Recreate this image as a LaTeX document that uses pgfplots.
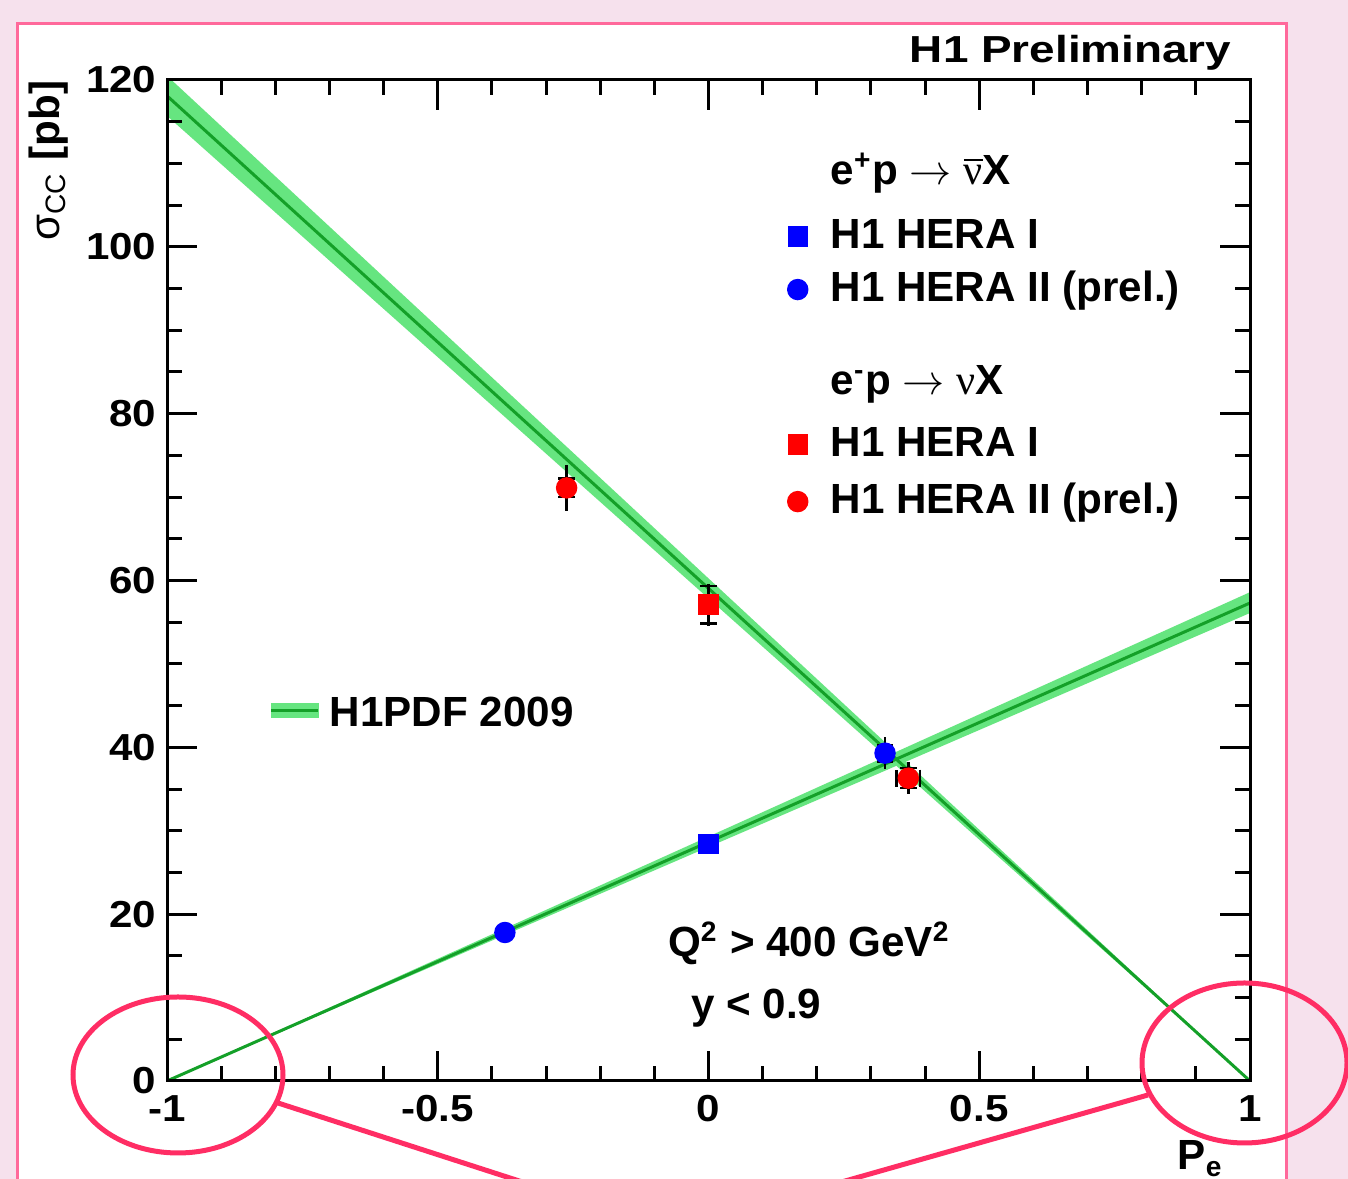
\documentclass[border=0pt]{standalone}
\usepackage{fontspec}
\setmainfont{Liberation Sans}
\newfontfamily\widesans{Liberation Sans}[FakeStretch=1.12]
\newfontfamily\titlesans{Liberation Sans}[FakeStretch=1.22]
\newfontfamily\serifnu{Liberation Serif}
\usepackage{pgfplots}
\pgfplotsset{compat=1.18}
\usepackage{pgfplotstable}

\definecolor{bg}{RGB}{246,225,237}
\definecolor{frame}{RGB}{255,105,155}
\definecolor{ring}{RGB}{255,45,100}
\definecolor{band}{RGB}{102,229,128}
\definecolor{fitline}{RGB}{20,160,40}

\newcommand{\tickfont}{\widesans\bfseries\fontsize{10.7pt}{12pt}\selectfont}
\newcommand{\legfont}{\bfseries\fontsize{12pt}{14pt}\selectfont}

% P_e, sigma, x error, total error, stat error
\pgfplotstableread{
x y ex et es
0.0 28.4 0 0.9 0.6
}\posI
\pgfplotstableread{
x y ex et es
-0.376 17.8 0 0.8 0.5
0.326 39.3 0 1.9 1.0
}\posII
\pgfplotstableread{
x y ex et es
0.0 57.1 0 2.5 2.25
}\negI
\pgfplotstableread{
x y ex et es
-0.262 71.1 0 2.8 1.1
0.369 36.3 0.022 1.9 1.2
}\negII

\begin{document}
\begin{tikzpicture}
\path[use as bounding box] (0,0) rectangle (134.8mm,117.9mm);
\clip (0,0) rectangle (134.8mm,117.9mm);
\fill[bg] (0,0) rectangle (134.8mm,117.9mm);
\filldraw[fill=white, draw=frame, line width=0.3mm] (1.7mm,-2mm) rectangle (128.6mm,115.5mm);

\pgfplotsset{
  frame/.style={
    at={(16.7mm,9.8mm)}, anchor=south west,
    scale only axis, width=108.3mm, height=100.1mm,
    xmin=-1, xmax=1, ymin=0, ymax=120,
  },
  errtot/.style={only marks, mark=none, forget plot,
    error bars/.cd, y dir=both, y explicit, error mark=none,
    error bar style={black, line width=0.25mm}},
  errstat/.style={only marks, mark=none, forget plot,
    error bars/.cd, x dir=both, x explicit, y dir=both, y explicit,
    error bar style={black, line width=0.25mm},
    error mark options={rotate=90, black, mark size=2.4pt, line width=0.25mm}},
  markimg/.style={legend image code/.code={\draw[##1] plot coordinates {(0mm,0.3mm)};}},
  leg/.style={legend cell align=left,
    legend style={anchor=north west,
      draw=none, fill=none, inner sep=0pt, row sep=1.8mm, column sep=2.3mm,
      font=\legfont, nodes={inner sep=0pt, text height=0.75em, text depth=0.25em},
      /tikz/row 1/.style={nodes={text depth=1.94mm}}}},
}

\begin{axis}[
  frame, leg,
  xtick={-1,-0.5,0,0.5,1}, xticklabels={-1,-0.5,0,0.5,1},
  ytick={0,20,...,120}, yticklabels={0,20,40,60,80,100,120},
  minor x tick num=4, minor y tick num=3,
  major tick length=3mm, minor tick length=1.5mm,
  tick style={black, line width=0.3mm},
  axis line style={line width=0.3mm},
  axis on top,
  ticklabel style={font=\tickfont, inner sep=0pt},
  xticklabel style={yshift=-1.35mm},
  yticklabel style={xshift=-1.0mm},
  legend style={at={(axis cs:0.145,110.72)}},
]
% H1PDF 2009 bands and central lines
\addplot[fill=band, draw=none, forget plot] coordinates {(-1,115.7) (1,0) (-1,120.5)};
\addplot[fill=band, draw=none, forget plot] coordinates {(-1,0) (1,56.1) (1,58.6)};
\addplot[fitline, line width=0.3mm, forget plot] coordinates {(-1,118.1) (1,0)};
\addplot[fitline, line width=0.3mm, forget plot] coordinates {(-1,0) (1,57.3)};

% error bars
\addplot[errtot] table[x=x, y=y, y error=et] {\posII};
\addplot[errtot] table[x=x, y=y, y error=et] {\negI};
\addplot[errtot] table[x=x, y=y, y error=et] {\negII};
\addplot[errstat] table[x=x, y=y, x error=ex, y error=es] {\posI};
\addplot[errstat] table[x=x, y=y, x error=ex, y error=es] {\posII};
\addplot[errstat] table[x=x, y=y, x error=ex, y error=es] {\negI};
\addplot[errstat] table[x=x, y=y, x error=ex, y error=es] {\negII};

% data points
\addplot[only marks, mark=square*, mark size=2.7pt, blue, forget plot] table[x=x, y=y] {\posI};
\addplot[only marks, mark=*, mark size=2.85pt, blue, forget plot] table[x=x, y=y] {\posII};
\addplot[only marks, mark=square*, mark size=2.7pt, red, forget plot] table[x=x, y=y] {\negI};
\addplot[only marks, mark=*, mark size=2.85pt, red, forget plot] table[x=x, y=y] {\negII};

\addlegendimage{empty legend}
\addlegendentry{e\textsuperscript{+}p $\rightarrow$ $\overline{\hbox{\serifnu\mdseries ν}}$X}
\addlegendimage{only marks, mark=square*, mark size=2.7pt, blue, markimg}
\addlegendentry{H1 HERA I}
\addlegendimage{only marks, mark=*, mark size=2.85pt, blue, markimg}
\addlegendentry{H1 HERA II (prel.)}

\node[font=\bfseries\fontsize{12pt}{14pt}\selectfont, anchor=base, inner sep=0pt]
  at (axis cs:0.186,14.9) {Q\textsuperscript{2} > 400 GeV\textsuperscript{2}};
\node[font=\bfseries\fontsize{12pt}{14pt}\selectfont, anchor=base, inner sep=0pt]
  at (axis cs:0.088,7.55) {y < 0.9};
\end{axis}

\begin{axis}[
  frame, hide axis, leg,
  legend style={at={(axis cs:0.145,85.54)}, row sep=2.2mm,
    /tikz/row 1/.style={nodes={text depth=1.34mm}}},
]
\addlegendimage{empty legend}
\addlegendentry{e\textsuperscript{-}p $\rightarrow$ {\serifnu\mdseries ν}X}
\addlegendimage{only marks, mark=square*, mark size=2.7pt, red, markimg}
\addlegendentry{H1 HERA I}
\addlegendimage{only marks, mark=*, mark size=2.85pt, red, markimg}
\addlegendentry{H1 HERA II (prel.)}
\end{axis}

\begin{axis}[
  frame, hide axis,
  legend style={at={(axis cs:-0.8115,45.76)}, anchor=north west,
    draw=none, fill=none, inner sep=0pt, column sep=1.0mm,
    font=\legfont,
    nodes={inner sep=0pt, text height=0.75em, text depth=0.25em}},
]
\addlegendimage{legend image code/.code={
  \fill[band] (0mm,0.0mm) rectangle (4.7mm,1.4mm);
  \draw[fitline, line width=0.3mm] (0mm,0.7mm) -- (4.7mm,0.7mm);}}
\addlegendentry{H1PDF 2009}
\end{axis}

% title and axis labels
\node[anchor=base east, inner sep=0pt, font=\titlesans\bfseries\fontsize{10.7pt}{12pt}\selectfont]
  at (123.2mm,111.6mm) {H1 Preliminary};
\node[rotate=90, anchor=north east, inner sep=0pt, font=\bfseries\fontsize{12pt}{14pt}\selectfont]
  at (2.8mm,109.9mm) {{\mdseries σ\textsubscript{CC}} [pb]};
\node[anchor=north west, inner sep=0pt, font=\bfseries\fontsize{12pt}{14pt}\selectfont]
  at (117.7mm,3.9mm) {P\textsubscript{e}};

% annotation rings
\draw[ring, line width=0.5mm] (17.8mm,10.4mm) ellipse [x radius=10.5mm, y radius=7.8mm];
\draw[ring, line width=0.5mm] (124.45mm,11.6mm) ellipse [x radius=10.25mm, y radius=8.0mm];
\draw[ring, line width=0.5mm] (27.8mm,7.6mm) -- (54.4mm,-1mm);
\draw[ring, line width=0.5mm] (114.8mm,8.4mm) -- (81.7mm,-1mm);
\end{tikzpicture}
\end{document}
